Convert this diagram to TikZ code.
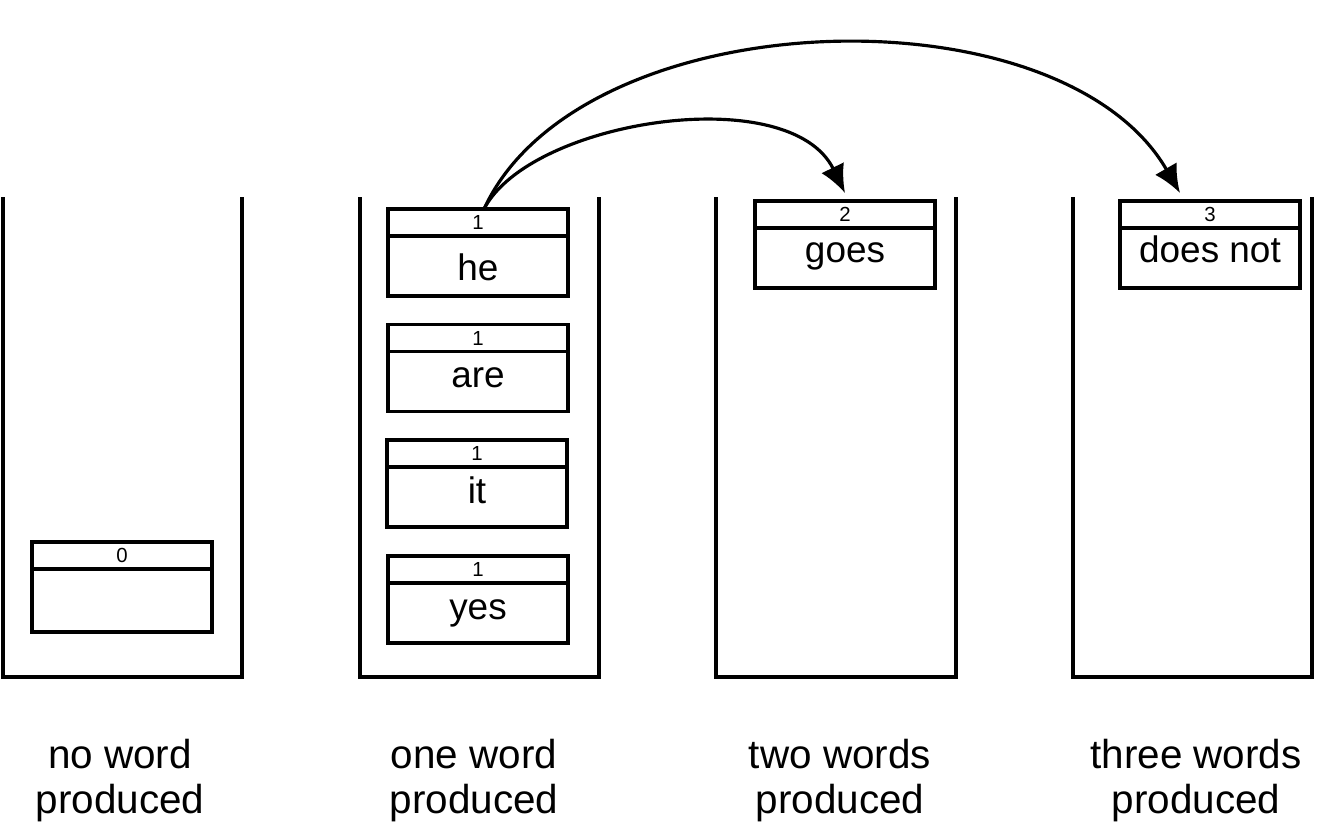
\documentclass[tikz,border=0pt]{standalone}
\usepackage{fontspec}
\setmainfont{Liberation Sans}
\usetikzlibrary{arrows.meta,positioning}

\begin{document}
\begin{tikzpicture}[x=0.01cm,y=-0.01cm,line width=0.9pt,
  numbox/.style={draw,outer sep=0pt,minimum width=1.8cm,minimum height=0.27cm,inner sep=0pt,font=\fontsize{5.8}{6}\selectfont},
  wordbox/.style={draw,outer sep=0pt,minimum width=1.8cm,minimum height=0.6cm,inner sep=0pt,
    text height=0.36cm,text depth=0.24cm,font=\fontsize{10.5}{12}\selectfont},
  caption/.style={align=center,font=\fontsize{11.5}{12.8}\selectfont},
  jump/.style={-{Latex[length=0.28cm,width=0.25cm]}}]
\useasboundingbox (0,0) rectangle (1324,829);
% the four stacks
\draw (3,197) |- (242,677) -- (242,197);
\draw (360,197) |- (599,677) -- (599,197);
\draw (716,197) |- (956,677) -- (956,197);
\draw (1073,197) |- (1312,677) -- (1312,197);
% hypotheses
\node[numbox] (h0-n) at (122,555.5) {0};
\node[wordbox,minimum height=0.63cm,text depth=0.27cm,below=0pt of h0-n] (h0) {};
\node[numbox] (he-n) at (478,222.5) {1};
\node[wordbox,text height=0.44cm,text depth=0.16cm,below=0pt of he-n] (he) {he};
\node[numbox] (are-n) at (478,338) {1};
\node[wordbox,below=0pt of are-n] (are) {are};
\node[numbox] (it-n) at (477,453.5) {1};
\node[wordbox,below=0pt of it-n] (it) {it};
\node[numbox] (yes-n) at (478,569.5) {1};
\node[wordbox,below=0pt of yes-n] (yes) {yes};
\node[numbox] (goes-n) at (845,214.5) {2};
\node[wordbox,text height=0.34cm,text depth=0.26cm,below=0pt of goes-n] (goes) {goes};
\node[numbox] (dn-n) at (1210,214.5) {3};
\node[wordbox,text height=0.34cm,text depth=0.26cm,below=0pt of dn-n] (dn) {does not};
% expansions
\draw[jump] ([xshift=0.06cm]he-n.north) .. controls (530,120) and (790,80) .. ([yshift=0.08cm]goes-n.north);
\draw[jump] ([xshift=0.06cm]he-n.north) .. controls (580,0) and (1060,-15) .. ([xshift=-0.3cm,yshift=0.08cm]dn-n.north);
% stack names
\node[caption] (cap0) at (120,781) {no word\\produced};
\node[caption] (cap1) at (474,781) {one word\\produced};
\node[caption] (cap2) at (840,781) {two words\\produced};
\node[caption] (cap3) at (1196,781) {three words\\produced};
\end{tikzpicture}
\end{document}
